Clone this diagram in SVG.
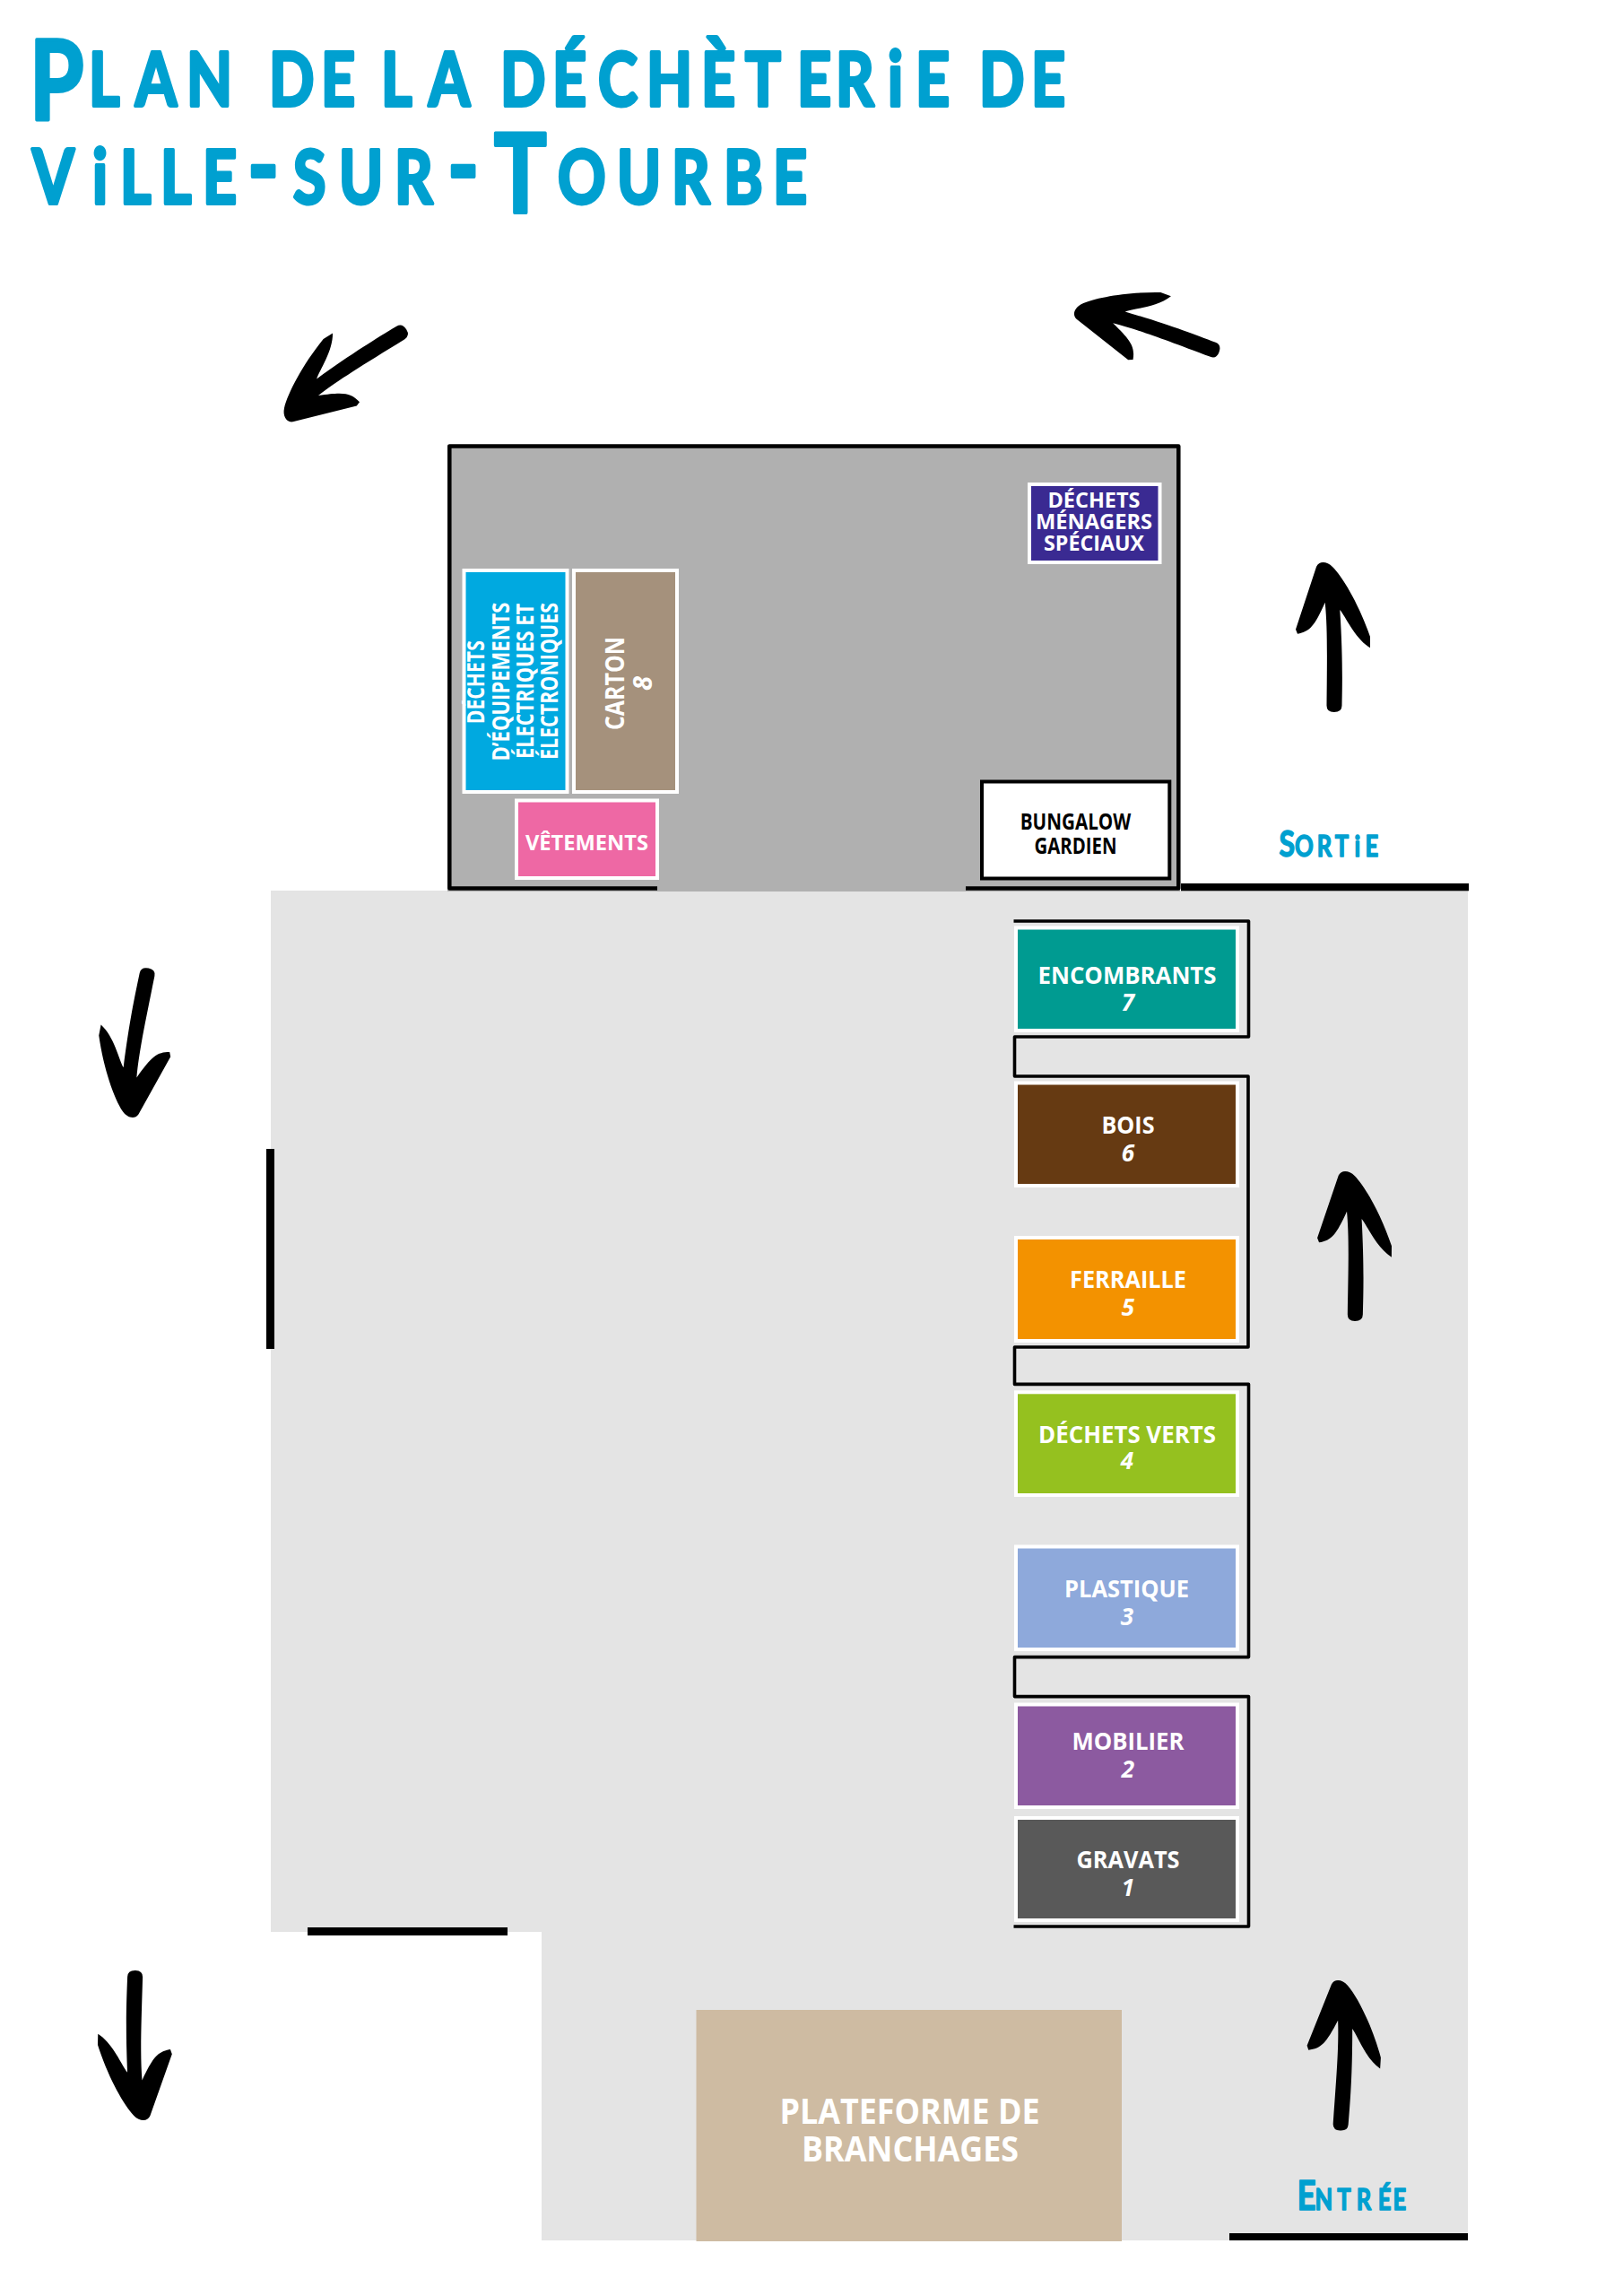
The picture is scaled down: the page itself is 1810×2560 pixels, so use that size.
<svg xmlns="http://www.w3.org/2000/svg" xmlns:xlink="http://www.w3.org/1999/xlink" width="1810" height="2560" viewBox="0 0 1810 2560">
<style>
.ttl{font-family:"Lato","Open Sans",sans-serif;font-weight:700;fill:#00a0d0;stroke:#00a0d0;stroke-linejoin:round;stroke-linecap:round;font-variant-caps:small-caps}
.n{font-variant-caps:normal}
.lab{font-family:"Open Sans","Noto Sans",sans-serif;font-weight:700;fill:#fff;text-anchor:middle}
.num{font-family:"Open Sans","Noto Sans",sans-serif;font-weight:700;font-style:italic;fill:#fff;text-anchor:middle}
.box{stroke:#fff;stroke-width:4}
.wall{fill:none;stroke:#000;stroke-linejoin:round}
</style>
<defs>
<path id="arrow" d="M-6.5 76.7Q-6.5 84 1.7 84Q10.5 84 10.5 76.7C11 50 11.5 20 8.3 -30C15 -22 25 2 42 12.3L42 0C30 -35 12 -66 0 -78C-6 -84 -15 -85 -18 -78L-41 -8.3L-39 -3.3C-25 -6 -20 -12 -8.3 -38.3C-5.5 -10 -6 20 -6.5 76.7Z" fill="#000"/>
</defs>
<rect width="1810" height="2560" fill="#fff"/>
<g id="title">
<g transform="scale(.8 1)">
<text class="ttl" font-size="118" stroke-width="4" x="41.3 123.8 188.8 260 350 375 447.5 512.5 531.3 597.5 675 697.5 770 833.8 901.3 977.5 1038.8 1111.3 1165 1237.5 1276.3 1350 1365 1437.5" y="133 118"><tspan font-size="122">P</tspan>lan de la déchèter<tspan class="n" font-size="84">i</tspan>e de</text>
<text class="ttl" font-size="118" stroke-width="4" x="45 128.8 167.5 223.8 282.5 345 408.8 472.5 550 623.8 688.8 777.5 860 936.3 1008.8 1077.5" y="227"><tspan class="n" font-size="84">V</tspan><tspan class="n" font-size="84">i</tspan>lle-sur-<tspan font-size="122" y="237">T</tspan><tspan y="227">ourbe</tspan></text>
</g>
</g>
<g id="ground">
<path d="M302 993H1637V2498H604V2154H302Z" fill="#e4e4e4"/>
</g>
<g id="building">
<rect x="499" y="496" width="817" height="498" fill="#b0b0b0"/>
<path class="wall" stroke-width="4.5" d="M733 990.5H501.3V497.4H1314.3V990.5H1077"/>
</g>
<g id="walls" fill="#000">
<rect x="1317" y="985" width="321" height="8.3"/>
<rect x="1371" y="2490" width="266" height="8"/>
<rect x="297" y="1281" width="9" height="223"/>
<rect x="343" y="2149" width="223" height="9"/>
<path class="wall" stroke-width="3.6" d="M1130.5 1027H1392.5V1156H1131.5V1200H1392V1502H1131.5V1543.4H1392.5V1847.6H1131.5V1891.6H1392.5V2148H1130.5"/>
</g>
<g id="node-dms">
<rect class="box" x="1148" y="540" width="145.5" height="87" fill="#3a2a92"/>
<text class="lab" font-size="24" x="1220" y="565.5" textLength="103" lengthAdjust="spacingAndGlyphs">DÉCHETS</text>
<text class="lab" font-size="24" x="1220" y="590" textLength="130" lengthAdjust="spacingAndGlyphs">MÉNAGERS</text>
<text class="lab" font-size="24" x="1220" y="613.5" textLength="112" lengthAdjust="spacingAndGlyphs">SPÉCIAUX</text>
</g>
<g id="node-deee">
<rect class="box" x="517.5" y="636" width="115" height="247" fill="#00a9e0"/>
<text class="lab" font-size="26" transform="translate(540 760.7) rotate(-90)" textLength="93" lengthAdjust="spacingAndGlyphs">DÉCHETS</text>
<text class="lab" font-size="26" transform="translate(568 760) rotate(-90)" textLength="177" lengthAdjust="spacingAndGlyphs">D’ÉQUIPEMENTS</text>
<text class="lab" font-size="26" transform="translate(595 759.5) rotate(-90)" textLength="173" lengthAdjust="spacingAndGlyphs">ÉLECTRIQUES ET</text>
<text class="lab" font-size="26" transform="translate(622 759.5) rotate(-90)" textLength="175" lengthAdjust="spacingAndGlyphs">ÉLECTRONIQUES</text>
</g>
<g id="node-carton">
<rect class="box" x="640" y="636" width="115" height="247" fill="#a5917c"/>
<text class="lab" font-size="29" transform="translate(696 762) rotate(-90)" textLength="104" lengthAdjust="spacingAndGlyphs">CARTON</text>
<text class="num" font-size="29" transform="translate(727 762) rotate(-90)">8</text>
</g>
<g id="node-vetements">
<rect class="box" x="576" y="892.5" width="157" height="86.5" fill="#ee68a4"/>
<text class="lab" font-size="23" x="654.5" y="947.5" textLength="137" lengthAdjust="spacingAndGlyphs">VÊTEMENTS</text>
</g>
<g id="node-bungalow">
<rect x="1095" y="871.5" width="209.3" height="108" fill="#fff" stroke="#000" stroke-width="4"/>
<text class="lab" style="fill:#000" font-size="25" x="1199.5" y="925" textLength="123.5" lengthAdjust="spacingAndGlyphs">BUNGALOW</text>
<text class="lab" style="fill:#000" font-size="25" x="1199.5" y="951.5" textLength="92" lengthAdjust="spacingAndGlyphs">GARDIEN</text>
</g>
<g id="node-encombrants">
<rect class="box" x="1133" y="1034.5" width="247" height="114.5" fill="#009b91"/>
<text class="lab" font-size="26" x="1257" y="1097" textLength="199" lengthAdjust="spacingAndGlyphs">ENCOMBRANTS</text>
<text class="num" font-size="26" x="1258" y="1127">7</text>
</g>
<g id="node-bois">
<rect class="box" x="1133" y="1207.5" width="247" height="114.5" fill="#663a12"/>
<text class="lab" font-size="26" x="1258" y="1264" textLength="59" lengthAdjust="spacingAndGlyphs">BOIS</text>
<text class="num" font-size="26" x="1258" y="1295">6</text>
</g>
<g id="node-ferraille">
<rect class="box" x="1133" y="1380" width="247" height="115" fill="#f39200"/>
<text class="lab" font-size="26" x="1258" y="1436" textLength="130" lengthAdjust="spacingAndGlyphs">FERRAILLE</text>
<text class="num" font-size="26" x="1258" y="1467">5</text>
</g>
<g id="node-dechets-verts">
<rect class="box" x="1133" y="1552.3" width="247" height="114.7" fill="#95c11f"/>
<text class="lab" font-size="26" x="1257" y="1609" textLength="198" lengthAdjust="spacingAndGlyphs">DÉCHETS VERTS</text>
<text class="num" font-size="26" x="1257" y="1638">4</text>
</g>
<g id="node-plastique">
<rect class="box" x="1133" y="1724.5" width="247" height="114.5" fill="#8ea9db"/>
<text class="lab" font-size="26" x="1256.5" y="1780.5" textLength="139" lengthAdjust="spacingAndGlyphs">PLASTIQUE</text>
<text class="num" font-size="26" x="1257" y="1811.5">3</text>
</g>
<g id="node-mobilier">
<rect class="box" x="1133" y="1900.5" width="247" height="114.5" fill="#8c5aa0"/>
<text class="lab" font-size="26" x="1258" y="1951" textLength="125" lengthAdjust="spacingAndGlyphs">MOBILIER</text>
<text class="num" font-size="26" x="1258" y="1981.5">2</text>
</g>
<g id="node-gravats">
<rect class="box" x="1133" y="2027" width="247" height="114" fill="#595959"/>
<text class="lab" font-size="26" x="1258" y="2083" textLength="115" lengthAdjust="spacingAndGlyphs">GRAVATS</text>
<text class="num" font-size="26" x="1258" y="2113.5">1</text>
</g>
<g id="node-plateforme">
<rect x="776.5" y="2241" width="474.5" height="258" fill="#cebba2"/>
<text class="lab" font-size="40" x="1014.5" y="2367.5" textLength="290" lengthAdjust="spacingAndGlyphs">PLATEFORME DE</text>
<text class="lab" font-size="40" x="1015" y="2410" textLength="242" lengthAdjust="spacingAndGlyphs">BRANCHAGES</text>
</g>
<g id="node-sortie">
<g transform="scale(.8 1)"><text class="ttl" font-size="46" stroke-width="1.5" x="1783 1805 1836 1861 1888 1903" y="955"><tspan class="n" font-size="40">S</tspan>ort<tspan class="n" font-size="33">i</tspan>e</text></g>
</g>
<g id="node-entree">
<g transform="scale(.8 1)"><text class="ttl" font-size="46" stroke-width="1.5" x="1808 1833 1864 1891 1921 1942" y="2464">Entrée</text></g>
</g>
<g id="connectors">
<use href="#arrow" transform="translate(1486 710)"/>
<use href="#arrow" transform="translate(1510 1389) rotate(.5)"/>
<use href="#arrow" transform="translate(1498 2291.5) rotate(3.6)"/>
<use href="#arrow" transform="translate(151 2281) rotate(181.2)"/>
<use href="#arrow" transform="translate(151.5 1162.4) rotate(190.9)"/>
<use href="#arrow" transform="translate(1280 365.5) rotate(-70)"/>
<use href="#arrow" transform="translate(383 413.5) rotate(237.8)"/>
</g>
</svg>
